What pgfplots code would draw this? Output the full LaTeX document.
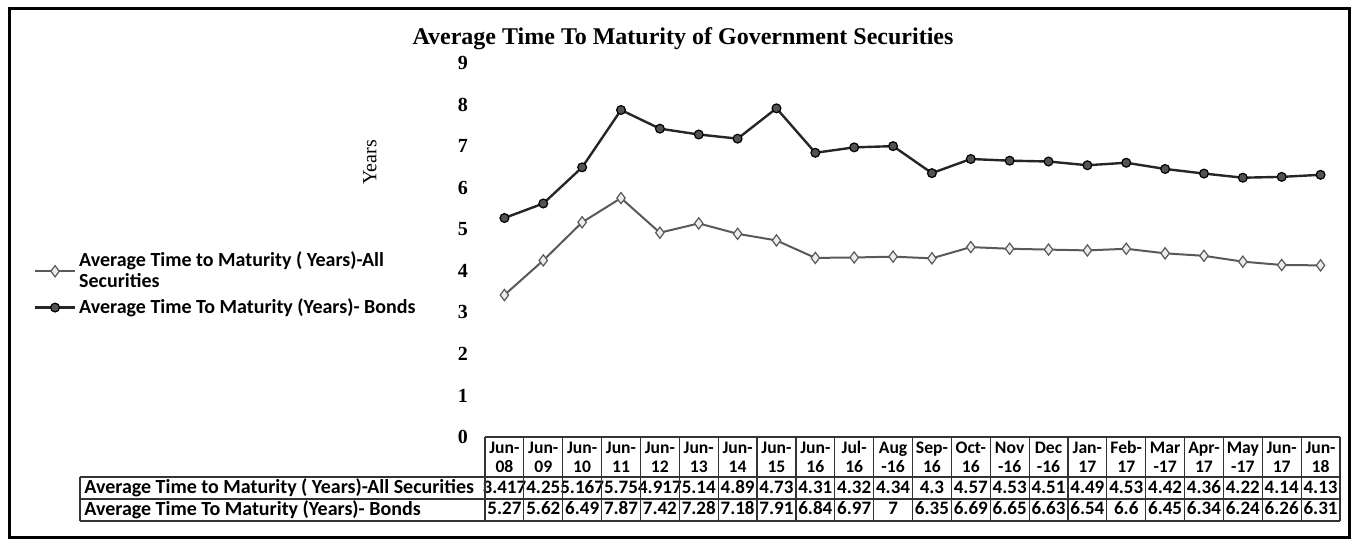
\documentclass[border=0pt]{standalone}
\usepackage{pgfplots}
\pgfplotsset{compat=1.18}
\usepackage{pgfplotstable}
\usepackage{fontspec}
\setmainfont{Liberation Serif}
\newfontfamily\carlito{Carlito}
\newcommand{\hd}[2]{\rule{0pt}{6.6pt}#1\\#2}

\pgfplotstableread{
x all bonds
0 3.417 5.27
1 4.25 5.62
2 5.167 6.49
3 5.75 7.87
4 4.917 7.42
5 5.14 7.28
6 4.89 7.18
7 4.73 7.91
8 4.31 6.84
9 4.32 6.97
10 4.34 7
11 4.3 6.35
12 4.57 6.69
13 4.53 6.65
14 4.51 6.63
15 4.49 6.54
16 4.53 6.6
17 4.42 6.45
18 4.36 6.34
19 4.22 6.24
20 4.14 6.26
21 4.13 6.31
}\datatab

\begin{document}
\begin{tikzpicture}
\path (0,0) rectangle (678pt,276pt);
\draw[line width=1.5pt] (4.5pt,271.5pt) rectangle (674.5pt,7pt);
\begin{axis}[
  at={(242.5pt,57.5pt)}, anchor=south west,
  scale only axis, width=427.5pt, height=187pt,
  xmin=-0.5, xmax=21.5, ymin=0, ymax=9,
  ytick={0,...,9}, xtick={0,...,21},
  xticklabels={{\hd{Jun-}{08}},{\hd{Jun-}{09}},{\hd{Jun-}{10}},{\hd{Jun-}{11}},{\hd{Jun-}{12}},{\hd{Jun-}{13}},{\hd{Jun-}{14}},{\hd{Jun-}{15}},{\hd{Jun-}{16}},{\hd{Jul-}{16}},{\hd{Aug}{-16}},{\hd{Sep-}{16}},{\hd{Oct-}{16}},{\hd{Nov}{-16}},{\hd{Dec}{-16}},{\hd{Jan-}{17}},{\hd{Feb-}{17}},{\hd{Mar}{-17}},{\hd{Apr-}{17}},{\hd{May}{-17}},{\hd{Jun-}{17}},{\hd{Jun-}{18}}},
  axis line style={draw=none}, major tick length=0pt,
  clip=false,
  /pgf/number format/assume math mode=true,
  yticklabel style={font=\bfseries\fontsize{10}{12}\selectfont, xshift=-5pt},
  xticklabel style={font=\carlito\bfseries\fontsize{8.8}{9.2}\selectfont, align=center, inner sep=1.5pt},
  legend style={at={(axis description cs:-0.535,0.515)}, anchor=north west, draw=none, fill=none,
    font=\carlito\bfseries\fontsize{10}{10.5}\selectfont, nodes={align=left, inner sep=1.5pt}, row sep=1pt},
  legend cell align=left,
  legend image code/.code={\draw[mark repeat=2,mark phase=2] plot coordinates {(0cm,0cm) (0.35cm,0cm) (0.7cm,0cm)};},
]
\addplot[color=gray!70!black, line width=1pt, mark=diamond*, mark size=2.8pt,
  mark options={fill=gray!15, draw=gray!70!black, line width=0.6pt, solid}]
  table[x=x,y=all]{\datatab};
\addlegendentry{Average Time to Maturity ( Years)-All\\Securities}
\addplot[color=black!85, line width=1.2pt, mark=*, mark size=2.2pt,
  mark options={fill=gray!65!black, draw=black, line width=0.6pt}]
  table[x=x,y=bonds]{\datatab};
\addlegendentry{Average Time To Maturity (Years)- Bonds}

\addplot[forget plot, draw=none, mark=none, nodes near coords, point meta=explicit symbolic,
  every node near coord/.append style={anchor=base, inner sep=0pt, text=black,
    font=\carlito\bfseries\fontsize{9.5}{10}\selectfont}]
  table[x=x, y expr=-1.36, meta=all]{\datatab};
\addplot[forget plot, draw=none, mark=none, nodes near coords, point meta=explicit symbolic,
  every node near coord/.append style={anchor=base, inner sep=0pt, text=black,
    font=\carlito\bfseries\fontsize{9.5}{10}\selectfont}]
  table[x=x, y expr=-1.87, meta=bonds]{\datatab};

\node[font=\bfseries\fontsize{12}{14}\selectfont] at (axis description cs:0.2316,1.064)
  {Average Time To Maturity of Government Securities};
\node[rotate=90, font=\fontsize{10}{12}\selectfont] at (axis description cs:-0.1345,0.735) {Years};
\end{axis}
\draw[line width=0.6pt, black!80] (242.5pt,57.5pt) -- (670pt,57.5pt);
\foreach \yy in {37.5,26.5,15.5} \draw[line width=0.6pt, black!80] (40pt,\yy pt) -- (670pt,\yy pt);
\foreach \k in {0,...,22} \draw[line width=0.6pt, black!80] ({242.5pt+19.432pt*\k},57.5pt) -- ({242.5pt+19.432pt*\k},15.5pt);
\draw[line width=0.6pt, black!80] (40pt,37.5pt) -- (40pt,15.5pt);
\node[anchor=base west, inner sep=0pt, font=\carlito\bfseries\fontsize{10}{10}\selectfont] at (42pt,29.4pt)
  {Average Time to Maturity ( Years)-All Securities};
\node[anchor=base west, inner sep=0pt, font=\carlito\bfseries\fontsize{10}{10}\selectfont] at (42pt,18.4pt)
  {Average Time To Maturity (Years)- Bonds};
\end{tikzpicture}
\end{document}
